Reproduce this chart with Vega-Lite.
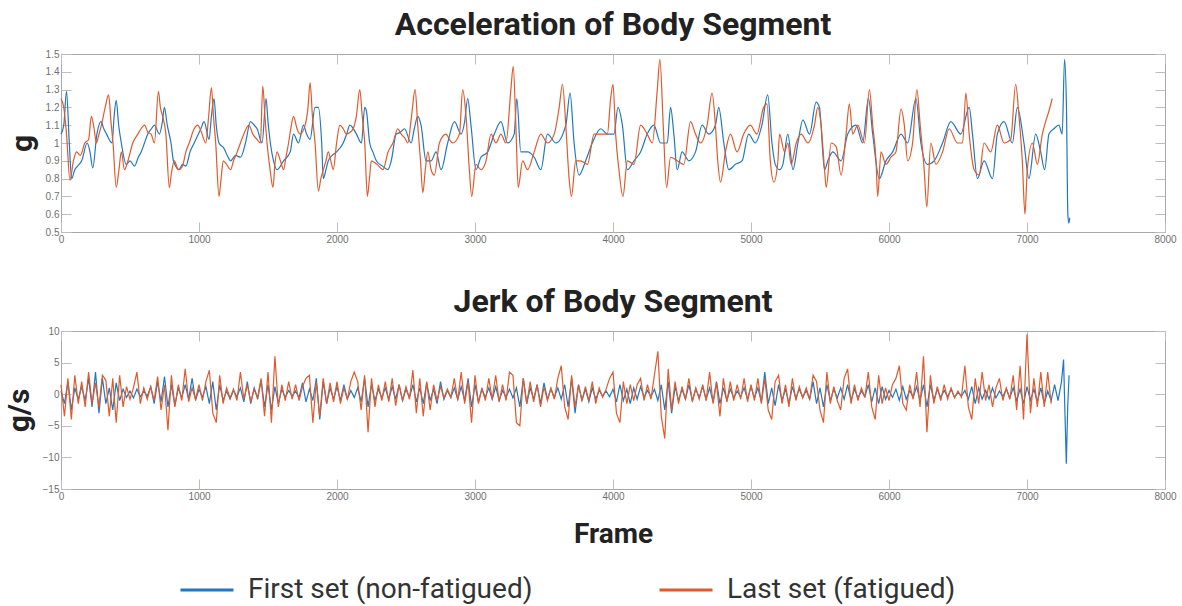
{
  "$schema": "https://vega.github.io/schema/vega-lite/v6.json",
  "background": "white",
  "padding": {"left": 3, "top": 8, "right": 2, "bottom": 2},
  "spacing": 40,
  "config": {
    "view": {"stroke": "#a8a8a8", "strokeWidth": 1},
    "font": "Roboto",
    "axis": {"domain": false, "grid": false, "tickColor": "#bdbdbd", "tickSize": -10, "labelPadding": 12, "labelFont": "Liberation Sans", "labelFontSize": 10, "labelColor": "#707070", "labelFlush": false, "labelOverlap": false, "titleFont": "Roboto", "titleFontSize": 30, "titleFontWeight": "bold", "titleColor": "#222222", "titlePadding": 8},
    "title": {"font": "Roboto", "fontSize": 32, "fontWeight": "bold", "color": "#222222", "offset": 7},
    "legend": {"symbolType": "stroke", "symbolSize": 2809, "symbolStrokeWidth": 3, "labelFont": "Roboto", "labelFontSize": 28, "labelColor": "#333333", "labelLimit": 500, "labelOffset": 13, "columnPadding": 120}
  },
  "datasets": {
    "acc": [
      {"s":"L","f":0,"v":1.25},{"s":"L","f":20,"v":1.2},{"s":"L","f":40,"v":1.05},{"s":"L","f":65,"v":0.79},{"s":"L","f":90,"v":0.9},{"s":"L","f":113,"v":0.95},{"s":"L","f":140,"v":0.93},{"s":"L","f":173,"v":1.0},{"s":"L","f":200,"v":1.02},{"s":"L","f":220,"v":1.15},{"s":"L","f":240,"v":1.08},{"s":"L","f":257,"v":1.0},{"s":"L","f":275,"v":1.05},{"s":"L","f":293,"v":1.1},{"s":"L","f":320,"v":1.2},{"s":"L","f":345,"v":1.27},{"s":"L","f":362,"v":1.12},{"s":"L","f":377,"v":1.0},{"s":"L","f":400,"v":0.75},{"s":"L","f":420,"v":0.85},{"s":"L","f":437,"v":0.95},{"s":"L","f":460,"v":0.85},{"s":"L","f":485,"v":0.9},{"s":"L","f":520,"v":1.0},{"s":"L","f":557,"v":1.05},{"s":"L","f":580,"v":1.08},{"s":"L","f":605,"v":1.1},{"s":"L","f":630,"v":1.06},{"s":"L","f":653,"v":1.05},{"s":"L","f":677,"v":1.0},{"s":"L","f":706,"v":1.29},{"s":"L","f":720,"v":1.2},{"s":"L","f":737,"v":1.15},{"s":"L","f":760,"v":1.05},{"s":"L","f":785,"v":0.75},{"s":"L","f":800,"v":0.83},{"s":"L","f":821,"v":0.9},{"s":"L","f":850,"v":0.85},{"s":"L","f":880,"v":0.87},{"s":"L","f":905,"v":0.95},{"s":"L","f":929,"v":1.0},{"s":"L","f":965,"v":1.08},{"s":"L","f":990,"v":1.1},{"s":"L","f":1013,"v":1.07},{"s":"L","f":1049,"v":1.0},{"s":"L","f":1070,"v":1.15},{"s":"L","f":1090,"v":1.31},{"s":"L","f":1105,"v":1.15},{"s":"L","f":1121,"v":1.0},{"s":"L","f":1145,"v":0.7},{"s":"L","f":1160,"v":0.8},{"s":"L","f":1176,"v":0.9},{"s":"L","f":1200,"v":0.88},{"s":"L","f":1229,"v":0.85},{"s":"L","f":1250,"v":0.9},{"s":"L","f":1277,"v":0.95},{"s":"L","f":1300,"v":1.0},{"s":"L","f":1325,"v":1.05},{"s":"L","f":1361,"v":1.1},{"s":"L","f":1390,"v":1.05},{"s":"L","f":1421,"v":1.02},{"s":"L","f":1445,"v":1.0},{"s":"L","f":1462,"v":1.32},{"s":"L","f":1478,"v":1.15},{"s":"L","f":1493,"v":1.0},{"s":"L","f":1515,"v":0.85},{"s":"L","f":1536,"v":0.75},{"s":"L","f":1550,"v":0.88},{"s":"L","f":1565,"v":0.95},{"s":"L","f":1590,"v":0.9},{"s":"L","f":1613,"v":0.85},{"s":"L","f":1630,"v":0.92},{"s":"L","f":1649,"v":1.0},{"s":"L","f":1665,"v":1.08},{"s":"L","f":1685,"v":1.15},{"s":"L","f":1710,"v":1.08},{"s":"L","f":1733,"v":1.05},{"s":"L","f":1769,"v":1.1},{"s":"L","f":1790,"v":1.2},{"s":"L","f":1805,"v":1.34},{"s":"L","f":1822,"v":1.15},{"s":"L","f":1841,"v":1.0},{"s":"L","f":1865,"v":0.73},{"s":"L","f":1883,"v":0.8},{"s":"L","f":1901,"v":0.85},{"s":"L","f":1920,"v":0.9},{"s":"L","f":1937,"v":0.95},{"s":"L","f":1955,"v":0.9},{"s":"L","f":1973,"v":0.85},{"s":"L","f":1997,"v":1.0},{"s":"L","f":2021,"v":1.1},{"s":"L","f":2045,"v":1.08},{"s":"L","f":2069,"v":1.05},{"s":"L","f":2095,"v":1.06},{"s":"L","f":2117,"v":1.08},{"s":"L","f":2140,"v":1.15},{"s":"L","f":2165,"v":1.3},{"s":"L","f":2183,"v":1.15},{"s":"L","f":2201,"v":1.0},{"s":"L","f":2220,"v":0.7},{"s":"L","f":2235,"v":0.8},{"s":"L","f":2249,"v":0.9},{"s":"L","f":2290,"v":0.88},{"s":"L","f":2333,"v":0.85},{"s":"L","f":2370,"v":0.95},{"s":"L","f":2405,"v":1.0},{"s":"L","f":2441,"v":1.08},{"s":"L","f":2465,"v":1.05},{"s":"L","f":2490,"v":1.03},{"s":"L","f":2513,"v":1.0},{"s":"L","f":2540,"v":1.15},{"s":"L","f":2566,"v":1.3},{"s":"L","f":2585,"v":1.1},{"s":"L","f":2605,"v":0.9},{"s":"L","f":2622,"v":0.72},{"s":"L","f":2640,"v":0.85},{"s":"L","f":2658,"v":0.95},{"s":"L","f":2682,"v":0.85},{"s":"L","f":2706,"v":0.82},{"s":"L","f":2742,"v":1.0},{"s":"L","f":2790,"v":1.05},{"s":"L","f":2815,"v":1.02},{"s":"L","f":2839,"v":1.0},{"s":"L","f":2887,"v":1.05},{"s":"L","f":2911,"v":1.3},{"s":"L","f":2935,"v":1.15},{"s":"L","f":2959,"v":0.85},{"s":"L","f":2976,"v":0.7},{"s":"L","f":3007,"v":0.88},{"s":"L","f":3043,"v":0.85},{"s":"L","f":3080,"v":0.9},{"s":"L","f":3116,"v":1.05},{"s":"L","f":3152,"v":1.0},{"s":"L","f":3188,"v":1.05},{"s":"L","f":3224,"v":1.0},{"s":"L","f":3260,"v":1.3},{"s":"L","f":3277,"v":1.43},{"s":"L","f":3296,"v":1.1},{"s":"L","f":3313,"v":0.75},{"s":"L","f":3345,"v":0.9},{"s":"L","f":3381,"v":0.85},{"s":"L","f":3429,"v":0.95},{"s":"L","f":3477,"v":1.05},{"s":"L","f":3525,"v":1.0},{"s":"L","f":3574,"v":1.05},{"s":"L","f":3610,"v":1.2},{"s":"L","f":3634,"v":1.33},{"s":"L","f":3658,"v":1.1},{"s":"L","f":3682,"v":0.8},{"s":"L","f":3699,"v":0.7},{"s":"L","f":3730,"v":0.9},{"s":"L","f":3766,"v":0.9},{"s":"L","f":3815,"v":0.88},{"s":"L","f":3863,"v":1.05},{"s":"L","f":3911,"v":1.05},{"s":"L","f":3959,"v":1.05},{"s":"L","f":3983,"v":1.25},{"s":"L","f":4000,"v":1.33},{"s":"L","f":4019,"v":1.05},{"s":"L","f":4043,"v":0.85},{"s":"L","f":4072,"v":0.7},{"s":"L","f":4104,"v":0.9},{"s":"L","f":4152,"v":0.88},{"s":"L","f":4200,"v":1.1},{"s":"L","f":4248,"v":1.05},{"s":"L","f":4285,"v":1.0},{"s":"L","f":4321,"v":1.3},{"s":"L","f":4340,"v":1.47},{"s":"L","f":4364,"v":1.1},{"s":"L","f":4388,"v":0.75},{"s":"L","f":4417,"v":0.92},{"s":"L","f":4465,"v":0.9},{"s":"L","f":4513,"v":0.88},{"s":"L","f":4562,"v":1.12},{"s":"L","f":4598,"v":1.05},{"s":"L","f":4634,"v":1.0},{"s":"L","f":4682,"v":1.1},{"s":"L","f":4718,"v":1.28},{"s":"L","f":4742,"v":1.1},{"s":"L","f":4759,"v":0.9},{"s":"L","f":4779,"v":0.78},{"s":"L","f":4815,"v":0.95},{"s":"L","f":4851,"v":1.05},{"s":"L","f":4899,"v":0.95},{"s":"L","f":4947,"v":1.05},{"s":"L","f":4995,"v":1.1},{"s":"L","f":5043,"v":1.05},{"s":"L","f":5091,"v":1.2},{"s":"L","f":5116,"v":1.22},{"s":"L","f":5140,"v":0.9},{"s":"L","f":5166,"v":0.78},{"s":"L","f":5195,"v":0.9},{"s":"L","f":5207,"v":1.05},{"s":"L","f":5243,"v":0.95},{"s":"L","f":5267,"v":1.0},{"s":"L","f":5291,"v":0.88},{"s":"L","f":5328,"v":1.0},{"s":"L","f":5364,"v":1.05},{"s":"L","f":5412,"v":1.0},{"s":"L","f":5460,"v":1.1},{"s":"L","f":5484,"v":1.2},{"s":"L","f":5508,"v":1.1},{"s":"L","f":5533,"v":0.85},{"s":"L","f":5545,"v":0.75},{"s":"L","f":5581,"v":1.0},{"s":"L","f":5617,"v":0.98},{"s":"L","f":5653,"v":0.82},{"s":"L","f":5689,"v":1.05},{"s":"L","f":5713,"v":1.22},{"s":"L","f":5737,"v":1.05},{"s":"L","f":5773,"v":1.1},{"s":"L","f":5822,"v":1.0},{"s":"L","f":5858,"v":1.3},{"s":"L","f":5882,"v":1.1},{"s":"L","f":5906,"v":0.9},{"s":"L","f":5918,"v":0.7},{"s":"L","f":5942,"v":0.95},{"s":"L","f":5978,"v":0.88},{"s":"L","f":6014,"v":0.92},{"s":"L","f":6050,"v":0.95},{"s":"L","f":6087,"v":1.19},{"s":"L","f":6111,"v":1.1},{"s":"L","f":6135,"v":0.9},{"s":"L","f":6171,"v":1.0},{"s":"L","f":6202,"v":1.3},{"s":"L","f":6226,"v":1.1},{"s":"L","f":6255,"v":0.85},{"s":"L","f":6274,"v":0.64},{"s":"L","f":6303,"v":1.0},{"s":"L","f":6340,"v":0.88},{"s":"L","f":6388,"v":0.95},{"s":"L","f":6436,"v":1.08},{"s":"L","f":6496,"v":1.0},{"s":"L","f":6533,"v":1.0},{"s":"L","f":6557,"v":1.28},{"s":"L","f":6581,"v":1.05},{"s":"L","f":6617,"v":0.85},{"s":"L","f":6653,"v":0.82},{"s":"L","f":6689,"v":1.0},{"s":"L","f":6737,"v":0.95},{"s":"L","f":6785,"v":1.1},{"s":"L","f":6834,"v":1.0},{"s":"L","f":6882,"v":1.02},{"s":"L","f":6918,"v":1.33},{"s":"L","f":6942,"v":1.15},{"s":"L","f":6966,"v":0.9},{"s":"L","f":6985,"v":0.6},{"s":"L","f":7002,"v":0.85},{"s":"L","f":7039,"v":1.0},{"s":"L","f":7075,"v":0.88},{"s":"L","f":7111,"v":1.05},{"s":"L","f":7135,"v":1.12},{"s":"L","f":7159,"v":1.18},{"s":"L","f":7183,"v":1.25},
      {"s":"F","f":0,"v":1.05},{"s":"F","f":20,"v":1.1},{"s":"F","f":40,"v":1.29},{"s":"F","f":60,"v":1.0},{"s":"F","f":77,"v":0.8},{"s":"F","f":100,"v":0.85},{"s":"F","f":120,"v":0.87},{"s":"F","f":150,"v":0.9},{"s":"F","f":190,"v":1.0},{"s":"F","f":210,"v":0.95},{"s":"F","f":230,"v":0.86},{"s":"F","f":260,"v":1.05},{"s":"F","f":290,"v":1.12},{"s":"F","f":310,"v":1.08},{"s":"F","f":330,"v":1.05},{"s":"F","f":370,"v":1.0},{"s":"F","f":385,"v":1.15},{"s":"F","f":400,"v":1.24},{"s":"F","f":418,"v":1.1},{"s":"F","f":437,"v":1.0},{"s":"F","f":473,"v":0.88},{"s":"F","f":500,"v":0.9},{"s":"F","f":533,"v":0.87},{"s":"F","f":560,"v":0.92},{"s":"F","f":581,"v":0.95},{"s":"F","f":605,"v":1.0},{"s":"F","f":629,"v":1.05},{"s":"F","f":655,"v":1.08},{"s":"F","f":677,"v":1.1},{"s":"F","f":713,"v":1.05},{"s":"F","f":735,"v":1.12},{"s":"F","f":749,"v":1.2},{"s":"F","f":770,"v":1.1},{"s":"F","f":797,"v":1.0},{"s":"F","f":815,"v":0.9},{"s":"F","f":857,"v":0.85},{"s":"F","f":880,"v":0.88},{"s":"F","f":905,"v":0.87},{"s":"F","f":935,"v":0.95},{"s":"F","f":965,"v":1.0},{"s":"F","f":1013,"v":1.08},{"s":"F","f":1037,"v":1.12},{"s":"F","f":1073,"v":1.02},{"s":"F","f":1090,"v":1.15},{"s":"F","f":1109,"v":1.25},{"s":"F","f":1125,"v":1.1},{"s":"F","f":1145,"v":1.0},{"s":"F","f":1181,"v":0.97},{"s":"F","f":1205,"v":0.93},{"s":"F","f":1229,"v":0.9},{"s":"F","f":1265,"v":0.93},{"s":"F","f":1301,"v":0.92},{"s":"F","f":1337,"v":1.0},{"s":"F","f":1373,"v":1.12},{"s":"F","f":1400,"v":1.1},{"s":"F","f":1421,"v":1.08},{"s":"F","f":1457,"v":1.0},{"s":"F","f":1486,"v":1.25},{"s":"F","f":1500,"v":1.12},{"s":"F","f":1517,"v":1.0},{"s":"F","f":1540,"v":0.9},{"s":"F","f":1565,"v":0.85},{"s":"F","f":1613,"v":0.9},{"s":"F","f":1661,"v":0.95},{"s":"F","f":1685,"v":1.05},{"s":"F","f":1721,"v":1.0},{"s":"F","f":1757,"v":1.1},{"s":"F","f":1780,"v":1.05},{"s":"F","f":1805,"v":1.02},{"s":"F","f":1841,"v":1.2},{"s":"F","f":1865,"v":1.2},{"s":"F","f":1889,"v":1.0},{"s":"F","f":1901,"v":0.8},{"s":"F","f":1920,"v":0.85},{"s":"F","f":1937,"v":0.9},{"s":"F","f":1965,"v":0.93},{"s":"F","f":1997,"v":0.95},{"s":"F","f":2045,"v":1.0},{"s":"F","f":2070,"v":1.05},{"s":"F","f":2093,"v":1.1},{"s":"F","f":2141,"v":1.05},{"s":"F","f":2177,"v":1.0},{"s":"F","f":2201,"v":1.2},{"s":"F","f":2213,"v":1.18},{"s":"F","f":2237,"v":1.0},{"s":"F","f":2260,"v":0.95},{"s":"F","f":2285,"v":0.9},{"s":"F","f":2330,"v":0.87},{"s":"F","f":2369,"v":0.85},{"s":"F","f":2393,"v":0.9},{"s":"F","f":2429,"v":1.05},{"s":"F","f":2460,"v":1.06},{"s":"F","f":2489,"v":1.08},{"s":"F","f":2537,"v":1.0},{"s":"F","f":2560,"v":1.08},{"s":"F","f":2585,"v":1.15},{"s":"F","f":2609,"v":1.1},{"s":"F","f":2645,"v":0.9},{"s":"F","f":2682,"v":0.9},{"s":"F","f":2718,"v":0.95},{"s":"F","f":2754,"v":0.85},{"s":"F","f":2802,"v":1.0},{"s":"F","f":2851,"v":1.12},{"s":"F","f":2899,"v":1.05},{"s":"F","f":2925,"v":1.12},{"s":"F","f":2947,"v":1.25},{"s":"F","f":2971,"v":1.1},{"s":"F","f":3007,"v":0.85},{"s":"F","f":3043,"v":0.92},{"s":"F","f":3092,"v":0.95},{"s":"F","f":3140,"v":1.05},{"s":"F","f":3188,"v":1.12},{"s":"F","f":3236,"v":1.0},{"s":"F","f":3284,"v":1.05},{"s":"F","f":3303,"v":1.25},{"s":"F","f":3332,"v":0.95},{"s":"F","f":3381,"v":0.95},{"s":"F","f":3429,"v":0.92},{"s":"F","f":3477,"v":0.85},{"s":"F","f":3525,"v":1.05},{"s":"F","f":3586,"v":1.0},{"s":"F","f":3658,"v":1.1},{"s":"F","f":3689,"v":1.28},{"s":"F","f":3718,"v":1.0},{"s":"F","f":3754,"v":0.82},{"s":"F","f":3802,"v":0.9},{"s":"F","f":3850,"v":1.0},{"s":"F","f":3911,"v":1.08},{"s":"F","f":3959,"v":1.05},{"s":"F","f":4007,"v":1.05},{"s":"F","f":4036,"v":1.2},{"s":"F","f":4068,"v":1.1},{"s":"F","f":4104,"v":0.85},{"s":"F","f":4152,"v":0.9},{"s":"F","f":4200,"v":0.95},{"s":"F","f":4248,"v":1.05},{"s":"F","f":4296,"v":1.1},{"s":"F","f":4345,"v":1.0},{"s":"F","f":4393,"v":1.0},{"s":"F","f":4417,"v":1.2},{"s":"F","f":4441,"v":1.05},{"s":"F","f":4465,"v":0.85},{"s":"F","f":4501,"v":0.95},{"s":"F","f":4549,"v":0.9},{"s":"F","f":4598,"v":0.95},{"s":"F","f":4646,"v":1.1},{"s":"F","f":4694,"v":1.05},{"s":"F","f":4742,"v":1.1},{"s":"F","f":4766,"v":1.2},{"s":"F","f":4803,"v":1.0},{"s":"F","f":4839,"v":0.85},{"s":"F","f":4887,"v":0.88},{"s":"F","f":4935,"v":0.9},{"s":"F","f":4983,"v":1.05},{"s":"F","f":5031,"v":1.0},{"s":"F","f":5079,"v":1.1},{"s":"F","f":5121,"v":1.27},{"s":"F","f":5152,"v":1.0},{"s":"F","f":5176,"v":0.88},{"s":"F","f":5207,"v":0.85},{"s":"F","f":5231,"v":0.88},{"s":"F","f":5267,"v":1.05},{"s":"F","f":5304,"v":0.85},{"s":"F","f":5340,"v":1.0},{"s":"F","f":5376,"v":1.13},{"s":"F","f":5424,"v":1.05},{"s":"F","f":5472,"v":1.23},{"s":"F","f":5496,"v":1.2},{"s":"F","f":5533,"v":0.85},{"s":"F","f":5557,"v":0.9},{"s":"F","f":5593,"v":0.95},{"s":"F","f":5653,"v":0.9},{"s":"F","f":5701,"v":1.05},{"s":"F","f":5761,"v":1.1},{"s":"F","f":5809,"v":1.0},{"s":"F","f":5851,"v":1.25},{"s":"F","f":5882,"v":1.05},{"s":"F","f":5930,"v":0.8},{"s":"F","f":5978,"v":0.9},{"s":"F","f":6027,"v":0.95},{"s":"F","f":6087,"v":1.05},{"s":"F","f":6135,"v":1.0},{"s":"F","f":6195,"v":1.25},{"s":"F","f":6231,"v":1.0},{"s":"F","f":6279,"v":0.88},{"s":"F","f":6327,"v":0.9},{"s":"F","f":6388,"v":1.0},{"s":"F","f":6448,"v":1.12},{"s":"F","f":6520,"v":1.05},{"s":"F","f":6581,"v":1.2},{"s":"F","f":6605,"v":1.05},{"s":"F","f":6641,"v":0.8},{"s":"F","f":6689,"v":0.9},{"s":"F","f":6750,"v":0.8},{"s":"F","f":6785,"v":1.05},{"s":"F","f":6834,"v":1.12},{"s":"F","f":6894,"v":1.0},{"s":"F","f":6930,"v":1.2},{"s":"F","f":6978,"v":1.0},{"s":"F","f":7014,"v":0.8},{"s":"F","f":7063,"v":1.05},{"s":"F","f":7099,"v":0.95},{"s":"F","f":7128,"v":0.85},{"s":"F","f":7159,"v":1.05},{"s":"F","f":7195,"v":1.08},{"s":"F","f":7231,"v":1.1},{"s":"F","f":7255,"v":1.05},{"s":"F","f":7272,"v":1.47},{"s":"F","f":7286,"v":1.2},{"s":"F","f":7296,"v":0.6},{"s":"F","f":7303,"v":0.55},{"s":"F","f":7310,"v":0.58}
    ],
    "jerk": [
      {"f":0,"F":0.5,"L":1.5},{"f":25,"F":-1.5,"L":-3.5},{"f":50,"F":2.0,"L":2.5},{"f":75,"F":-2.5,"L":-4.0},{"f":100,"F":1.0,"L":3.0},{"f":125,"F":-0.8,"L":-1.5},{"f":150,"F":1.2,"L":2.0},{"f":175,"F":-1.0,"L":-2.0},{"f":200,"F":2.5,"L":3.5},{"f":225,"F":-2.0,"L":-1.5},{"f":250,"F":3.5,"L":1.8},{"f":275,"F":-3.0,"L":-2.0},{"f":300,"F":2.5,"L":3.0},{"f":325,"F":-1.5,"L":2.2},{"f":350,"F":1.0,"L":-3.5},{"f":375,"F":-2.5,"L":2.5},{"f":400,"F":1.8,"L":-4.5},{"f":425,"F":-1.0,"L":3.0},{"f":450,"F":0.8,"L":-2.0},{"f":475,"F":-0.5,"L":1.2},{"f":500,"F":0.5,"L":-0.8},{"f":525,"F":-0.6,"L":1.0},{"f":550,"F":0.8,"L":3.5},{"f":575,"F":-0.4,"L":-1.5},{"f":600,"F":0.5,"L":1.0},{"f":625,"F":-0.3,"L":-0.8},{"f":650,"F":1.2,"L":1.2},{"f":675,"F":-1.5,"L":-1.0},{"f":700,"F":2.0,"L":2.8},{"f":725,"F":-1.2,"L":-2.5},{"f":750,"F":2.8,"L":1.5},{"f":775,"F":-2.0,"L":-5.7},{"f":800,"F":1.5,"L":3.0},{"f":825,"F":-1.8,"L":-2.0},{"f":850,"F":1.0,"L":1.5},{"f":875,"F":-0.6,"L":-1.0},{"f":900,"F":1.5,"L":4.0},{"f":925,"F":-0.8,"L":-1.2},{"f":950,"F":2.5,"L":1.0},{"f":975,"F":-1.0,"L":-0.8},{"f":1000,"F":0.8,"L":1.5},{"f":1025,"F":-0.5,"L":-1.0},{"f":1050,"F":1.2,"L":2.0},{"f":1075,"F":-1.5,"L":3.8},{"f":1100,"F":2.0,"L":-3.0},{"f":1125,"F":-2.5,"L":-4.5},{"f":1150,"F":1.5,"L":3.0},{"f":1175,"F":-1.0,"L":-1.5},{"f":1200,"F":0.5,"L":1.0},{"f":1225,"F":-0.8,"L":-0.6},{"f":1250,"F":0.6,"L":0.8},{"f":1275,"F":-0.4,"L":-1.0},{"f":1300,"F":1.0,"L":3.5},{"f":1325,"F":-1.2,"L":-0.8},{"f":1350,"F":2.0,"L":1.5},{"f":1375,"F":-1.5,"L":-1.2},{"f":1400,"F":1.0,"L":0.8},{"f":1425,"F":-0.8,"L":-0.5},{"f":1450,"F":2.2,"L":2.5},{"f":1475,"F":-2.0,"L":-3.5},{"f":1500,"F":1.5,"L":3.5},{"f":1525,"F":-2.5,"L":-4.5},{"f":1550,"F":1.2,"L":6.0},{"f":1575,"F":-1.5,"L":-2.0},{"f":1600,"F":0.8,"L":1.5},{"f":1625,"F":-0.5,"L":-1.0},{"f":1650,"F":0.6,"L":2.0},{"f":1675,"F":-0.3,"L":-0.8},{"f":1700,"F":0.5,"L":1.5},{"f":1725,"F":-0.6,"L":-1.0},{"f":1750,"F":1.8,"L":1.2},{"f":1775,"F":-1.2,"L":2.5},{"f":1800,"F":0.8,"L":3.0},{"f":1825,"F":-1.0,"L":-4.5},{"f":1850,"F":2.5,"L":2.0},{"f":1875,"F":-4.0,"L":-3.5},{"f":1900,"F":2.0,"L":2.5},{"f":1925,"F":-1.5,"L":-1.5},{"f":1950,"F":1.0,"L":1.8},{"f":1975,"F":-0.8,"L":-1.2},{"f":2000,"F":1.2,"L":2.0},{"f":2025,"F":-1.0,"L":-1.5},{"f":2050,"F":1.5,"L":1.0},{"f":2075,"F":-0.8,"L":-0.8},{"f":2100,"F":0.6,"L":2.0},{"f":2125,"F":-0.5,"L":3.5},{"f":2150,"F":1.0,"L":2.0},{"f":2175,"F":-1.2,"L":-2.5},{"f":2200,"F":2.5,"L":3.0},{"f":2225,"F":-2.0,"L":-6.0},{"f":2250,"F":1.5,"L":2.5},{"f":2275,"F":-1.0,"L":-2.0},{"f":2300,"F":0.8,"L":1.5},{"f":2325,"F":-0.6,"L":-1.0},{"f":2350,"F":1.0,"L":2.0},{"f":2375,"F":-0.8,"L":-1.2},{"f":2400,"F":1.2,"L":2.5},{"f":2425,"F":-0.8,"L":-1.8},{"f":2450,"F":1.5,"L":1.5},{"f":2475,"F":-1.0,"L":-1.0},{"f":2500,"F":0.8,"L":1.2},{"f":2525,"F":-0.5,"L":-0.8},{"f":2550,"F":1.5,"L":3.8},{"f":2575,"F":-1.2,"L":-3.0},{"f":2600,"F":1.0,"L":2.5},{"f":2625,"F":-1.5,"L":-3.5},{"f":2650,"F":1.8,"L":2.0},{"f":2675,"F":-1.0,"L":-2.5},{"f":2700,"F":0.8,"L":1.5},{"f":2725,"F":-1.5,"L":-1.0},{"f":2750,"F":2.0,"L":1.2},{"f":2775,"F":-0.8,"L":-0.6},{"f":2800,"F":0.6,"L":0.8},{"f":2825,"F":-0.5,"L":-0.5},{"f":2850,"F":1.0,"L":2.5},{"f":2875,"F":-0.8,"L":-1.0},{"f":2900,"F":1.2,"L":3.5},{"f":2925,"F":-1.0,"L":-1.5},{"f":2950,"F":2.5,"L":2.0},{"f":2975,"F":-2.0,"L":-4.5},{"f":3000,"F":1.5,"L":3.0},{"f":3025,"F":-1.2,"L":-1.5},{"f":3050,"F":0.8,"L":1.0},{"f":3075,"F":-0.5,"L":-1.0},{"f":3100,"F":1.0,"L":2.5},{"f":3125,"F":-0.8,"L":-0.8},{"f":3150,"F":1.2,"L":3.0},{"f":3175,"F":-1.0,"L":-1.2},{"f":3200,"F":0.6,"L":1.5},{"f":3225,"F":-0.5,"L":-1.0},{"f":3250,"F":0.8,"L":3.5},{"f":3275,"F":-0.6,"L":3.0},{"f":3300,"F":1.0,"L":-4.5},{"f":3325,"F":-2.0,"L":-5.0},{"f":3350,"F":2.5,"L":2.5},{"f":3375,"F":-1.5,"L":-1.5},{"f":3400,"F":1.0,"L":2.0},{"f":3425,"F":-0.8,"L":-1.2},{"f":3450,"F":1.5,"L":1.5},{"f":3475,"F":-1.5,"L":-2.0},{"f":3500,"F":1.8,"L":1.2},{"f":3525,"F":-0.8,"L":-1.0},{"f":3550,"F":0.8,"L":1.0},{"f":3575,"F":-0.5,"L":-0.8},{"f":3600,"F":1.0,"L":2.5},{"f":3625,"F":-0.8,"L":4.5},{"f":3650,"F":1.5,"L":-2.0},{"f":3675,"F":-2.0,"L":-4.0},{"f":3700,"F":2.5,"L":3.0},{"f":3725,"F":-3.0,"L":-2.0},{"f":3750,"F":1.5,"L":1.5},{"f":3775,"F":-1.0,"L":-1.0},{"f":3800,"F":0.8,"L":1.2},{"f":3825,"F":-1.2,"L":-1.0},{"f":3850,"F":1.0,"L":2.0},{"f":3875,"F":-0.8,"L":-1.5},{"f":3900,"F":0.6,"L":1.0},{"f":3925,"F":-0.3,"L":-0.5},{"f":3950,"F":0.5,"L":0.8},{"f":3975,"F":-0.4,"L":2.5},{"f":4000,"F":0.8,"L":3.5},{"f":4025,"F":-1.2,"L":-3.0},{"f":4050,"F":1.5,"L":-4.5},{"f":4075,"F":-1.0,"L":2.0},{"f":4100,"F":0.8,"L":-1.5},{"f":4125,"F":-1.5,"L":1.5},{"f":4150,"F":1.0,"L":-1.0},{"f":4175,"F":-0.8,"L":1.5},{"f":4200,"F":1.2,"L":2.5},{"f":4225,"F":-0.5,"L":-1.0},{"f":4250,"F":0.6,"L":1.5},{"f":4275,"F":-0.4,"L":-0.8},{"f":4300,"F":0.8,"L":3.0},{"f":4325,"F":-1.0,"L":6.8},{"f":4350,"F":1.5,"L":-3.5},{"f":4375,"F":-2.5,"L":-7.0},{"f":4400,"F":2.0,"L":4.0},{"f":4425,"F":-3.0,"L":-2.5},{"f":4450,"F":1.2,"L":2.0},{"f":4475,"F":-1.0,"L":-1.5},{"f":4500,"F":0.8,"L":1.2},{"f":4525,"F":-0.8,"L":-0.8},{"f":4550,"F":1.5,"L":2.5},{"f":4575,"F":-1.0,"L":-1.2},{"f":4600,"F":0.8,"L":1.0},{"f":4625,"F":-0.5,"L":-0.8},{"f":4650,"F":1.2,"L":1.5},{"f":4675,"F":-0.8,"L":-1.0},{"f":4700,"F":1.0,"L":3.5},{"f":4725,"F":-1.2,"L":-1.5},{"f":4750,"F":2.0,"L":1.8},{"f":4775,"F":-1.5,"L":-3.5},{"f":4800,"F":1.0,"L":2.5},{"f":4825,"F":-1.0,"L":-1.2},{"f":4850,"F":0.8,"L":2.0},{"f":4875,"F":-0.6,"L":-1.0},{"f":4900,"F":0.5,"L":1.5},{"f":4925,"F":-0.4,"L":-0.8},{"f":4950,"F":1.0,"L":2.5},{"f":4975,"F":-0.8,"L":-1.2},{"f":5000,"F":1.2,"L":1.5},{"f":5025,"F":-0.6,"L":-1.0},{"f":5050,"F":1.0,"L":2.5},{"f":5075,"F":-1.2,"L":-1.5},{"f":5100,"F":3.5,"L":2.5},{"f":5125,"F":-1.5,"L":-2.5},{"f":5150,"F":1.0,"L":-4.0},{"f":5175,"F":-1.8,"L":2.0},{"f":5200,"F":1.5,"L":3.0},{"f":5225,"F":-1.0,"L":-1.5},{"f":5250,"F":0.8,"L":1.5},{"f":5275,"F":-1.5,"L":-2.0},{"f":5300,"F":1.2,"L":2.5},{"f":5325,"F":-0.6,"L":-1.0},{"f":5350,"F":0.8,"L":1.2},{"f":5375,"F":-0.5,"L":-0.6},{"f":5400,"F":0.6,"L":1.0},{"f":5425,"F":-0.8,"L":-0.8},{"f":5450,"F":2.0,"L":3.0},{"f":5475,"F":-1.5,"L":2.0},{"f":5500,"F":1.0,"L":-2.5},{"f":5525,"F":-2.0,"L":-4.5},{"f":5550,"F":1.5,"L":3.5},{"f":5575,"F":-1.0,"L":-1.5},{"f":5600,"F":0.8,"L":1.2},{"f":5625,"F":-0.6,"L":-1.0},{"f":5650,"F":1.0,"L":-2.5},{"f":5675,"F":-0.8,"L":2.5},{"f":5700,"F":1.5,"L":4.0},{"f":5725,"F":-1.0,"L":-1.5},{"f":5750,"F":0.8,"L":1.5},{"f":5775,"F":-0.6,"L":-1.0},{"f":5800,"F":0.5,"L":1.0},{"f":5825,"F":-0.4,"L":-0.5},{"f":5850,"F":1.5,"L":3.5},{"f":5875,"F":-1.2,"L":-2.0},{"f":5900,"F":1.0,"L":-4.0},{"f":5925,"F":-1.5,"L":3.0},{"f":5950,"F":1.2,"L":-1.5},{"f":5975,"F":-0.8,"L":1.0},{"f":6000,"F":0.6,"L":-1.0},{"f":6025,"F":-0.5,"L":1.5},{"f":6050,"F":0.8,"L":2.5},{"f":6075,"F":-1.0,"L":4.5},{"f":6100,"F":1.2,"L":-1.5},{"f":6125,"F":-0.8,"L":-2.5},{"f":6150,"F":0.6,"L":1.5},{"f":6175,"F":-0.5,"L":-0.8},{"f":6200,"F":1.2,"L":3.5},{"f":6225,"F":-1.0,"L":-2.0},{"f":6250,"F":1.5,"L":6.0},{"f":6275,"F":-2.0,"L":-6.0},{"f":6300,"F":1.5,"L":3.0},{"f":6325,"F":-1.0,"L":-1.5},{"f":6350,"F":0.8,"L":1.2},{"f":6375,"F":-0.5,"L":-1.0},{"f":6400,"F":0.6,"L":1.5},{"f":6425,"F":-0.4,"L":-0.8},{"f":6450,"F":0.8,"L":1.0},{"f":6475,"F":-0.5,"L":-0.6},{"f":6500,"F":0.3,"L":0.5},{"f":6525,"F":-0.3,"L":-0.5},{"f":6550,"F":0.6,"L":4.5},{"f":6575,"F":-0.8,"L":-2.0},{"f":6600,"F":1.2,"L":-4.0},{"f":6625,"F":-1.5,"L":2.5},{"f":6650,"F":1.0,"L":-1.5},{"f":6675,"F":-0.8,"L":3.5},{"f":6700,"F":0.6,"L":-1.0},{"f":6725,"F":-0.8,"L":1.5},{"f":6750,"F":1.0,"L":-2.0},{"f":6775,"F":-0.6,"L":1.0},{"f":6800,"F":0.5,"L":2.5},{"f":6825,"F":-0.4,"L":-1.0},{"f":6850,"F":0.8,"L":1.0},{"f":6875,"F":-0.6,"L":-0.8},{"f":6900,"F":1.0,"L":3.0},{"f":6925,"F":-1.0,"L":-2.5},{"f":6950,"F":0.8,"L":4.5},{"f":6975,"F":-1.5,"L":-4.0},{"f":7000,"F":1.2,"L":9.5},{"f":7025,"F":-1.0,"L":-3.0},{"f":7050,"F":0.8,"L":2.5},{"f":7075,"F":-1.2,"L":-2.0},{"f":7100,"F":1.0,"L":3.5},{"f":7125,"F":-1.5,"L":-2.0},{"f":7150,"F":0.5,"L":3.5},{"f":7175,"F":-1.0,"L":-1.5},{"f":7200,"F":1.5},{"f":7225,"F":-1.0},{"f":7250,"F":2.0},{"f":7265,"F":5.5},{"f":7275,"F":-3.0},{"f":7285,"F":-11.0},{"f":7295,"F":-2.0},{"f":7305,"F":3.0}
    ]
  },
  "vconcat": [
    {
      "width": 1104,
      "height": 178,
      "title": "Acceleration of Body Segment",
      "data": {"name": "acc"},
      "layer": [
        {
          "transform": [{"filter": "datum.s == 'F'"}],
          "mark": {"type": "line", "strokeWidth": 1.2, "interpolate": "monotone"},
          "encoding": {
            "x": {"field": "f", "type": "quantitative", "scale": {"domain": [0, 8000], "nice": false}, "axis": {"orient": "bottom", "values": [0,1000,2000,3000,4000,5000,6000,7000,8000], "format": "d", "title": null}},
            "y": {"field": "v", "type": "quantitative", "scale": {"domain": [0.5, 1.5], "nice": false}, "axis": {"orient": "left", "values": [0.5,0.6,0.7,0.8,0.9,1,1.1,1.2,1.3,1.4,1.5], "format": ".1~f", "title": "g"}},
            "color": {"field": "s", "type": "nominal", "scale": {"domain": ["F", "L"], "range": ["#1f78c1", "#df5a2c"]}, "legend": {"orient": "none", "direction": "horizontal", "legendX": 118, "legendY": 508, "title": null, "labelExpr": "datum.label == 'F' ? 'First set (non-fatigued)' : 'Last set (fatigued)'"}}
          }
        },
        {
          "transform": [{"filter": "datum.s == 'L'"}],
          "mark": {"type": "line", "strokeWidth": 1.2, "interpolate": "monotone"},
          "encoding": {
            "x": {"field": "f", "type": "quantitative", "scale": {"domain": [0, 8000], "nice": false}, "axis": {"orient": "top", "values": [0,1000,2000,3000,4000,5000,6000,7000,8000], "labels": false, "title": null}},
            "y": {"field": "v", "type": "quantitative", "scale": {"domain": [0.5, 1.5], "nice": false}, "axis": {"orient": "right", "values": [0.5,0.6,0.7,0.8,0.9,1,1.1,1.2,1.3,1.4,1.5], "labels": false, "title": null}},
            "color": {"field": "s", "type": "nominal", "scale": {"domain": ["F", "L"], "range": ["#1f78c1", "#df5a2c"]}, "legend": {"orient": "none", "direction": "horizontal", "legendX": 118, "legendY": 508, "title": null, "labelExpr": "datum.label == 'F' ? 'First set (non-fatigued)' : 'Last set (fatigued)'"}}
          }
        }
      ],
      "resolve": {"axis": {"x": "independent", "y": "independent"}}
    },
    {
      "width": 1104,
      "height": 158,
      "title": "Jerk of Body Segment",
      "data": {"name": "jerk"},
      "transform": [{"fold": ["F", "L"], "as": ["s", "v"]}, {"filter": "isValid(datum.v)"}],
      "layer": [
        {
          "transform": [{"filter": "datum.s == 'F'"}],
          "mark": {"type": "line", "strokeWidth": 1.2},
          "encoding": {
            "x": {"field": "f", "type": "quantitative", "scale": {"domain": [0, 8000], "nice": false}, "axis": {"orient": "bottom", "values": [0,1000,2000,3000,4000,5000,6000,7000,8000], "format": "d", "title": "Frame", "titleFontSize": 28, "titlePadding": 19}},
            "y": {"field": "v", "type": "quantitative", "scale": {"domain": [-15, 10], "nice": false}, "axis": {"orient": "left", "values": [-15,-10,-5,0,5,10], "format": "d", "title": "g/s"}},
            "color": {"field": "s", "type": "nominal", "scale": {"domain": ["F", "L"], "range": ["#1f78c1", "#df5a2c"]}, "legend": {"orient": "none", "direction": "horizontal", "legendX": 118, "legendY": 508, "title": null, "labelExpr": "datum.label == 'F' ? 'First set (non-fatigued)' : 'Last set (fatigued)'"}}
          }
        },
        {
          "transform": [{"filter": "datum.s == 'L'"}],
          "mark": {"type": "line", "strokeWidth": 1.2},
          "encoding": {
            "x": {"field": "f", "type": "quantitative", "scale": {"domain": [0, 8000], "nice": false}, "axis": {"orient": "top", "values": [0,1000,2000,3000,4000,5000,6000,7000,8000], "labels": false, "title": null}},
            "y": {"field": "v", "type": "quantitative", "scale": {"domain": [-15, 10], "nice": false}, "axis": {"orient": "right", "values": [-15,-10,-5,0,5,10], "labels": false, "title": null}},
            "color": {"field": "s", "type": "nominal", "scale": {"domain": ["F", "L"], "range": ["#1f78c1", "#df5a2c"]}, "legend": {"orient": "none", "direction": "horizontal", "legendX": 118, "legendY": 508, "title": null, "labelExpr": "datum.label == 'F' ? 'First set (non-fatigued)' : 'Last set (fatigued)'"}}
          }
        }
      ],
      "resolve": {"axis": {"x": "independent", "y": "independent"}}
    }
  ]
}
